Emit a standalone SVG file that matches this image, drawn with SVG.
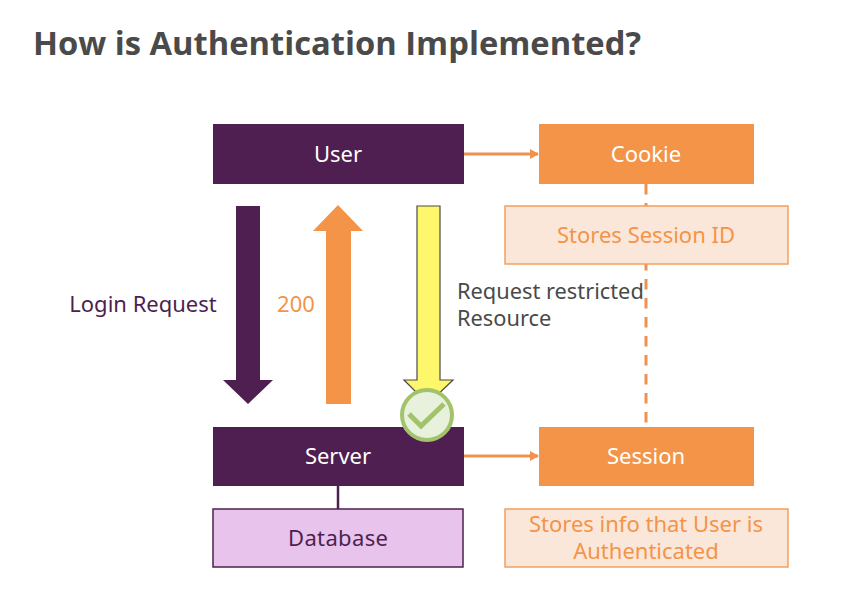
<svg xmlns="http://www.w3.org/2000/svg" width="863" height="598" viewBox="0 0 863 598">
<style>
text{font-family:"Noto Sans","Liberation Sans",sans-serif;font-size:22px;text-anchor:middle}
.t{font-family:"Open Sans","Liberation Sans",sans-serif;font-weight:700;font-size:33px;fill:#4a4a4a;text-anchor:start}
.p{fill:#4e1f50}.o{fill:#f39448}.l{fill:#fbe6da;stroke:#f4a05c;stroke-width:1.5}
.w{fill:#fff}.ot{fill:#f39448}.d{fill:#4a4a4a;text-anchor:start;font-size:21.8px}
.c{stroke:#f0914f;stroke-width:3;fill:none}
</style>
<defs><marker id="a" markerUnits="userSpaceOnUse" markerWidth="9" markerHeight="10" refX="8" refY="5" orient="auto"><path d="M0 0L9 5L0 10Z" fill="#f0914f"/></marker></defs>
<rect width="863" height="598" fill="#fff"/>
<text class="t" x="33" y="55" textLength="608" lengthAdjust="spacingAndGlyphs">How is Authentication Implemented?</text>
<g id="connectors">
<path class="c" d="M463 154H538" marker-end="url(#a)"/>
<path class="c" d="M463 456H538" marker-end="url(#a)"/>
<path class="c" d="M646 184V427" stroke-dasharray="10.5 8.5"/>
<path d="M338 486V509" stroke="#4e1f50" stroke-width="2.5" fill="none"/>
</g>
<g id="user"><rect class="p" x="213" y="124" width="251" height="60"/><text class="w" x="338" y="161.500">User</text></g>
<g id="cookie"><rect class="o" x="539" y="124" width="215" height="60"/><text class="w" x="646" y="161.500">Cookie</text></g>
<g id="stores-session-id"><rect class="l" x="505" y="206" width="283" height="58"/><text class="ot" x="646" y="243">Stores Session ID</text></g>
<g id="server"><rect class="p" x="213" y="427" width="251" height="59"/><text class="w" x="338" y="464">Server</text></g>
<g id="session"><rect class="o" x="539" y="427" width="215" height="59"/><text class="w" x="646" y="464">Session</text></g>
<g id="database"><rect fill="#e8c3eb" stroke="#4e1f50" stroke-width="1.5" x="213" y="509" width="250" height="58"/><text fill="#4e1f50" x="338" y="546" textLength="100">Database</text></g>
<g id="stores-info"><rect class="l" x="505" y="509" width="283" height="58"/><text class="ot"><tspan x="646" y="532">Stores info that User is</tspan><tspan x="646" y="559">Authenticated</tspan></text></g>
<g id="login-request"><path class="p" d="M236 206H260V380H273L248 404L223 380H236Z"/><text fill="#4e1f50" x="143" y="312">Login Request</text></g>
<g id="response-200"><path class="o" d="M338 205L363 231H351V404H326V231H313Z"/><text class="ot" x="296" y="312">200</text></g>
<g id="restricted-request"><path d="M417 206H440V380H453L428 404L404 380H417Z" fill="#fff76b" stroke="#4a4a4a" stroke-width="1.2"/><text class="d"><tspan x="457" y="299">Request restricted</tspan><tspan x="457" y="326">Resource</tspan></text></g>
<g id="check"><circle cx="427" cy="415" r="25" fill="#e8f1dc" stroke="#a2c36c" stroke-width="4"/><path d="M409 414L421 426L444 404" fill="none" stroke="#a2c36c" stroke-width="5"/></g>
</svg>
